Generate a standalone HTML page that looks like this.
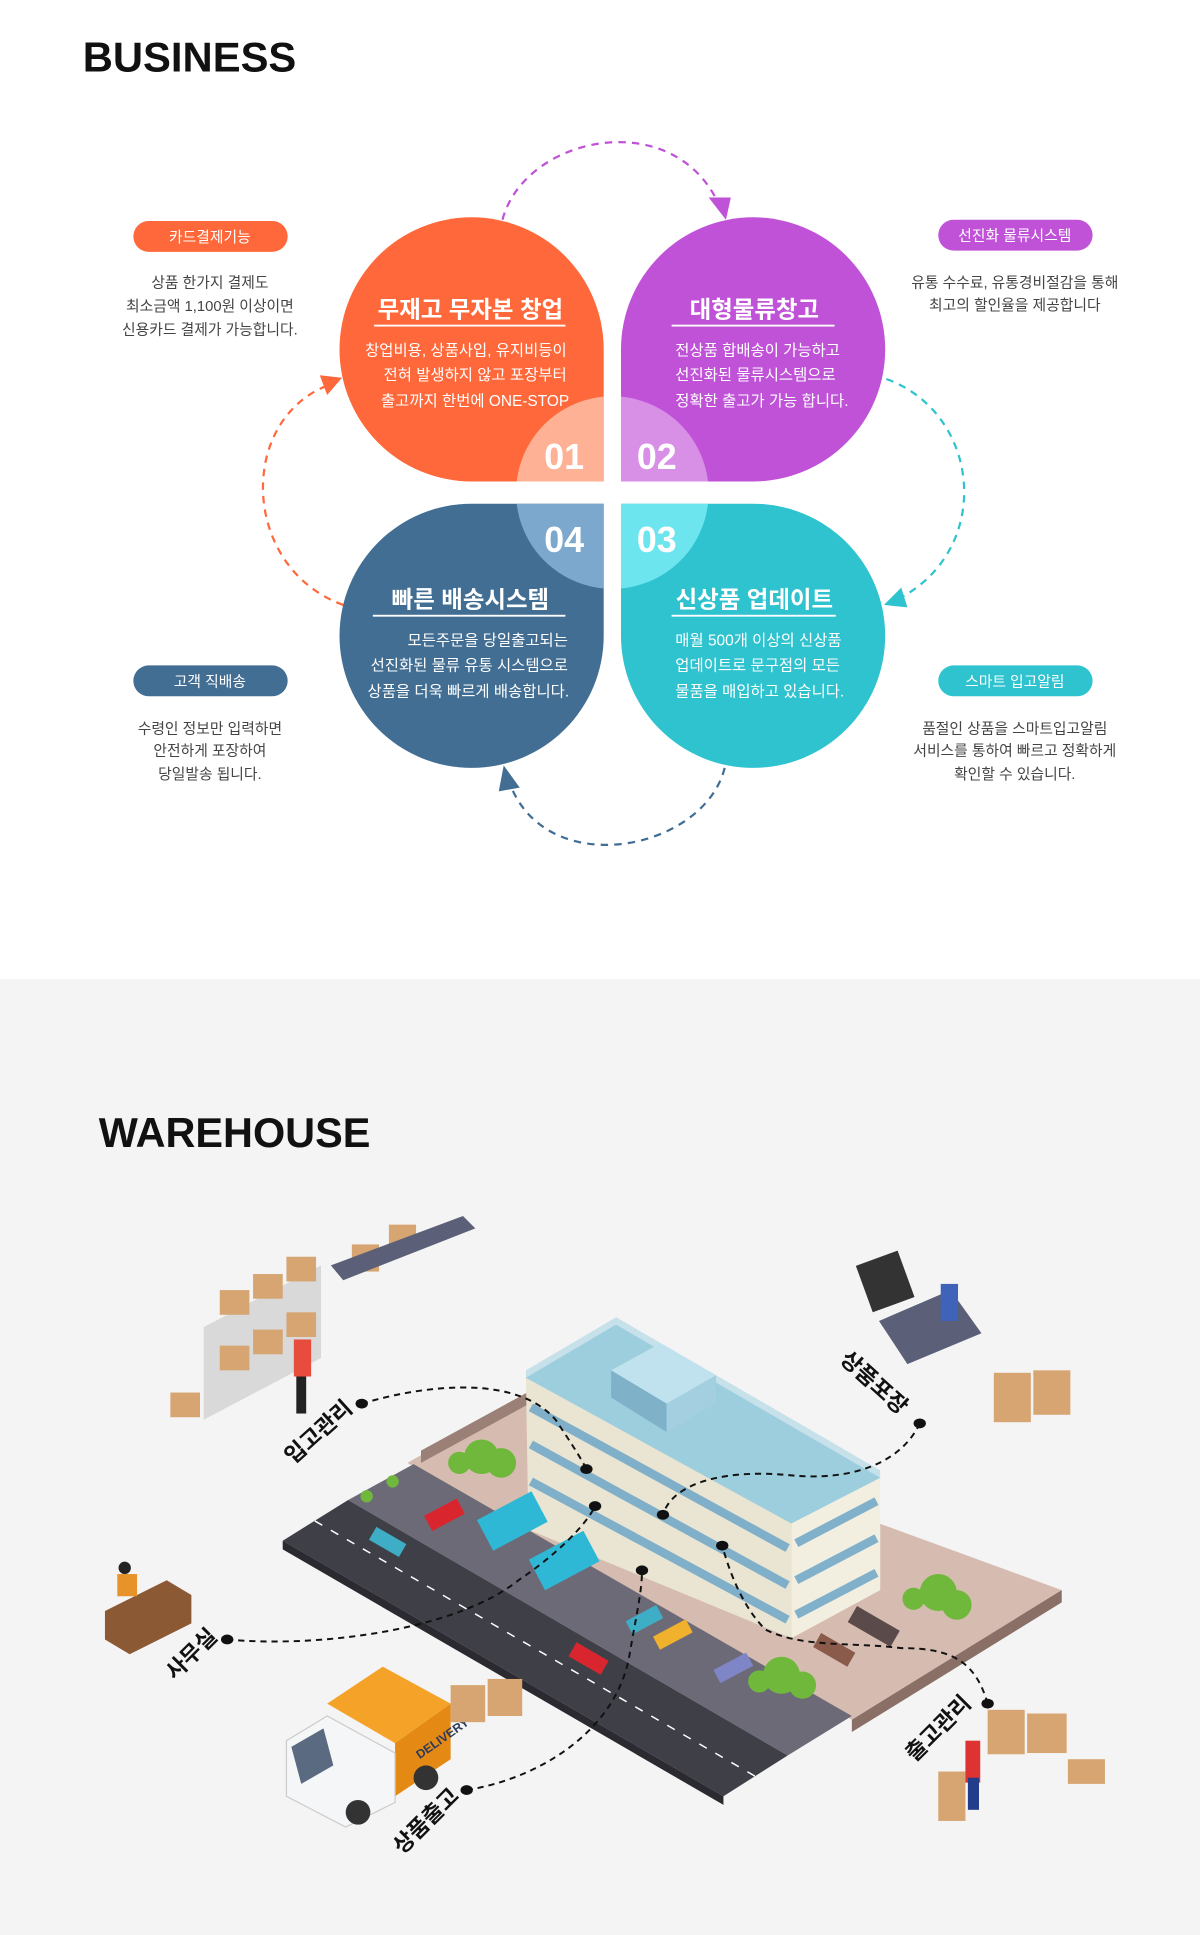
<!DOCTYPE html>
<html><head><meta charset="utf-8"><style>
html,body{margin:0;padding:0;background:#fff;}
svg{display:block;}
text{font-family:"Liberation Sans","Noto Sans CJK KR",sans-serif;}
</style></head><body>
<svg width="1200" height="1935" viewBox="0 0 972 1567.4" xmlns="http://www.w3.org/2000/svg">
<defs>
<clipPath id="c1"><path d="M489,390 L382,390 A107,107 0 1 1 489,283 Z"/></clipPath>
<clipPath id="c2"><path d="M503,390 L503,283 A107,107 0 1 1 610,390 Z"/></clipPath>
<clipPath id="c3"><path d="M503,408 L610,408 A107,107 0 1 1 503,515 Z"/></clipPath>
<clipPath id="c4"><path d="M489,408 L489,515 A107,107 0 1 1 382,408 Z"/></clipPath>
</defs>
<rect x="0" y="0" width="972" height="793" fill="#fff"/>
<text x="67" y="58" font-size="34" font-weight="bold" fill="#111" textLength="173" lengthAdjust="spacingAndGlyphs">BUSINESS</text>

<!-- dashed arcs -->
<path d="M407,178 C425,110 545,85 582,165" fill="none" stroke="#c052d8" stroke-width="1.8" stroke-dasharray="6,5"/>
<polygon points="574,160 592,160 588,178" fill="#c052d8"/>
<path d="M718,307 C795,335 805,445 728,485" fill="none" stroke="#2ec3cf" stroke-width="1.8" stroke-dasharray="6,5"/>
<polygon points="716,490 730,476 735,492" fill="#2ec3cf"/>
<path d="M587,622 C570,690 440,715 412,632" fill="none" stroke="#426e93" stroke-width="1.8" stroke-dasharray="6,5"/>
<polygon points="408,620 421,638 404,641" fill="#426e93"/>
<path d="M278,490 C195,460 192,340 266,312" fill="none" stroke="#ff683a" stroke-width="1.8" stroke-dasharray="6,5"/>
<polygon points="277,306 259,304 265,320" fill="#ff683a"/>

<!-- petals -->
<path d="M489,390 L382,390 A107,107 0 1 1 489,283 Z" fill="#ff683a"/>
<path d="M503,390 L503,283 A107,107 0 1 1 610,390 Z" fill="#c052d8"/>
<path d="M503,408 L610,408 A107,107 0 1 1 503,515 Z" fill="#2ec3cf"/>
<path d="M489,408 L489,515 A107,107 0 1 1 382,408 Z" fill="#426e93"/>
<circle cx="496" cy="399" r="78" fill="#ffb196" clip-path="url(#c1)"/>
<circle cx="496" cy="399" r="78" fill="#d88fe6" clip-path="url(#c2)"/>
<circle cx="496" cy="399" r="78" fill="#6de5ee" clip-path="url(#c3)"/>
<circle cx="496" cy="399" r="78" fill="#7ba8cc" clip-path="url(#c4)"/>

<g fill="#fff" font-weight="bold" font-size="29">
<text x="457" y="380" text-anchor="middle">01</text>
<text x="532" y="380" text-anchor="middle">02</text>
<text x="457" y="447" text-anchor="middle">04</text>
<text x="532" y="447" text-anchor="middle">03</text>
</g>

<g fill="#fff">
<text x="381" y="257" font-size="19" font-weight="bold" text-anchor="middle">무재고 무자본 창업</text>
<rect x="303" y="263" width="155" height="1.5"/>
<g font-size="12.5" text-anchor="end">
<text x="459" y="288">창업비용, 상품사입, 유지비등이</text>
<text x="459" y="308">전혀 발생하지 않고 포장부터</text>
<text x="461" y="329">출고까지 한번에 ONE-STOP</text>
</g>
<text x="611" y="257" font-size="19" font-weight="bold" text-anchor="middle">대형물류창고</text>
<rect x="544" y="263" width="132" height="1.5"/>
<g font-size="12.5">
<text x="547" y="288">전상품 합배송이 가능하고</text>
<text x="547" y="308">선진화된 물류시스템으로</text>
<text x="547" y="329">정확한 출고가 가능 합니다.</text>
</g>
<text x="381" y="492" font-size="19" font-weight="bold" text-anchor="middle">빠른 배송시스템</text>
<rect x="302" y="498" width="156" height="1.5"/>
<g font-size="12.5" text-anchor="end">
<text x="460" y="523">모든주문을 당일출고되는</text>
<text x="460" y="543">선진화된 물류 유통 시스템으로</text>
<text x="461" y="564">상품을 더욱 빠르게 배송합니다.</text>
</g>
<text x="611" y="492" font-size="19" font-weight="bold" text-anchor="middle">신상품 업데이트</text>
<rect x="544" y="498" width="133" height="1.5"/>
<g font-size="12.5">
<text x="547" y="523">매월 500개 이상의 신상품</text>
<text x="547" y="543">업데이트로 문구점의 모든</text>
<text x="547" y="564">물품을 매입하고 있습니다.</text>
</g>
</g>

<!-- side pills -->
<rect x="108" y="179" width="125" height="25" rx="12.5" fill="#ff683a"/>
<text x="170" y="196" font-size="12" fill="#fff" text-anchor="middle">카드결제기능</text>
<rect x="760" y="178" width="125" height="25" rx="12.5" fill="#c052d8"/>
<text x="822" y="195" font-size="12" fill="#fff" text-anchor="middle">선진화 물류시스템</text>
<rect x="108" y="539" width="125" height="25" rx="12.5" fill="#426e93"/>
<text x="170" y="556" font-size="12" fill="#fff" text-anchor="middle">고객 직배송</text>
<rect x="760" y="539" width="125" height="25" rx="12.5" fill="#2ec3cf"/>
<text x="822" y="556" font-size="12" fill="#fff" text-anchor="middle">스마트 입고알림</text>
<g font-size="12" fill="#444" text-anchor="middle">
<text x="170" y="233">상품 한가지 결제도</text>
<text x="170" y="252">최소금액 1,100원 이상이면</text>
<text x="170" y="271">신용카드 결제가 가능합니다.</text>
<text x="822" y="233">유통 수수료, 유통경비절감을 통해</text>
<text x="822" y="251">최고의 할인율을 제공합니다</text>
<text x="170" y="594">수령인 정보만 입력하면</text>
<text x="170" y="612">안전하게 포장하여</text>
<text x="170" y="631">당일발송 됩니다.</text>
<text x="822" y="594">품절인 상품을 스마트입고알림</text>
<text x="822" y="612">서비스를 통하여 빠르고 정확하게</text>
<text x="822" y="631">확인할 수 있습니다.</text>
</g>

<!-- WAREHOUSE -->
<rect x="0" y="793" width="972" height="775" fill="#f4f4f4"/>
<text x="80" y="929" font-size="34" font-weight="bold" fill="#111" textLength="220" lengthAdjust="spacingAndGlyphs">WAREHOUSE</text>

<!-- ground -->
<polygon points="330,1185 427,1130 860,1288 690,1393" fill="#d6bcb0"/>
<polygon points="860,1288 860,1298 690,1403 690,1393" fill="#8a6f66"/>
<polygon points="341,1175 427,1128 427,1138 341,1185" fill="#9a8077"/>
<!-- lot and road -->
<polygon points="282,1215 335,1186 690,1390 638,1422" fill="#6d6a78"/>
<polygon points="229,1248 282,1215 638,1422 586,1455" fill="#3f4047"/>
<polygon points="229,1248 586,1455 586,1462 229,1255" fill="#2a2a30"/>
<line x1="255" y1="1232" x2="612" y2="1439" stroke="#fff" stroke-width="1.2" stroke-dasharray="7,8"/>

<!-- building -->
<polygon points="426,1116 641,1234 641,1327 428,1239" fill="#e9e5d2"/>
<polygon points="641,1234 713,1197 713,1288 641,1327" fill="#f2efe0"/>
<g stroke="#6ea6c8" stroke-width="7" opacity="0.85">
<line x1="430" y1="1140" x2="638" y2="1254"/>
<line x1="430" y1="1170" x2="638" y2="1284"/>
<line x1="430" y1="1200" x2="638" y2="1312"/>
<line x1="645" y1="1250" x2="710" y2="1216"/>
<line x1="645" y1="1280" x2="710" y2="1246"/>
<line x1="645" y1="1308" x2="710" y2="1274"/>
</g>
<polygon points="426,1116 499,1073 713,1197 641,1234" fill="#8ec5d6"/>
<polygon points="426,1110 499,1067 713,1191 713,1197 641,1234 426,1116" fill="#a6d3e2" opacity="0.6"/>
<polygon points="495,1110 535,1088 580,1114 540,1137" fill="#bfe2ee"/>
<polygon points="495,1110 540,1137 540,1160 495,1132" fill="#7fb2c8"/>
<polygon points="540,1137 580,1114 580,1137 540,1160" fill="#a3cfe0"/>

<!-- trees -->
<g fill="#6fb83c">
<circle cx="390" cy="1180" r="14"/><circle cx="406" cy="1185" r="12"/><circle cx="372" cy="1185" r="9"/>
<circle cx="760" cy="1290" r="15"/><circle cx="775" cy="1300" r="12"/><circle cx="740" cy="1295" r="9"/>
<circle cx="633" cy="1357" r="15"/><circle cx="650" cy="1365" r="11"/><circle cx="615" cy="1362" r="9"/>
<circle cx="297" cy="1212" r="5"/><circle cx="318" cy="1200" r="5"/>
</g>
<!-- vehicles -->
<g>
<rect x="345" y="1220" width="30" height="14" fill="#d9262e" transform="rotate(-28 360 1227)"/>
<rect x="300" y="1243" width="28" height="12" fill="#3eaec6" transform="rotate(30 314 1249)"/>
<rect x="390" y="1218" width="50" height="28" fill="#2fb8d6" transform="rotate(-28 415 1232)"/>
<rect x="432" y="1250" width="50" height="28" fill="#2fb8d6" transform="rotate(-28 457 1264)"/>
<rect x="508" y="1306" width="28" height="12" fill="#3eaec6" transform="rotate(-28 522 1312)"/>
<rect x="530" y="1318" width="30" height="12" fill="#f0b12d" transform="rotate(-28 545 1324)"/>
<rect x="462" y="1337" width="30" height="13" fill="#d9262e" transform="rotate(30 477 1343)"/>
<rect x="579" y="1345" width="30" height="12" fill="#7f86c8" transform="rotate(-28 594 1351)"/>
<rect x="660" y="1330" width="32" height="13" fill="#8a5a4a" transform="rotate(30 676 1336)"/>
<rect x="688" y="1310" width="40" height="15" fill="#5a4a4a" transform="rotate(30 708 1317)"/>
</g>

<!-- top-left shelves -->
<polygon points="165,1075 260,1025 260,1100 165,1150" fill="#d9d9d9"/>
<g fill="#d6a572">
<rect x="178" y="1045" width="24" height="20"/><rect x="205" y="1032" width="24" height="20"/><rect x="232" y="1018" width="24" height="20"/>
<rect x="178" y="1090" width="24" height="20"/><rect x="205" y="1077" width="24" height="20"/><rect x="232" y="1063" width="24" height="20"/>
<rect x="285" y="1008" width="22" height="22"/><rect x="315" y="992" width="22" height="22"/>
<rect x="138" y="1128" width="24" height="20"/>
</g>
<polygon points="268,1025 375,985 385,995 278,1037" fill="#5b5f78"/>
<rect x="238" y="1085" width="14" height="30" fill="#e84c3d"/>
<rect x="240" y="1115" width="8" height="30" fill="#222"/>
<!-- packing station -->
<rect x="699" y="1018" width="36" height="40" fill="#333" transform="rotate(-20 717 1038)"/>
<polygon points="712,1070 770,1045 795,1080 735,1105" fill="#5b5f78"/>
<rect x="762" y="1040" width="14" height="30" fill="#3e63b8"/>
<g fill="#d6a572"><rect x="805" y="1112" width="30" height="40"/><rect x="837" y="1110" width="30" height="36"/></g>
<!-- office -->
<polygon points="85,1305 135,1280 155,1292 155,1315 105,1340 85,1328" fill="#8b5a35"/>
<rect x="95" y="1275" width="16" height="18" fill="#e8932a"/>
<circle cx="101" cy="1270" r="5" fill="#222"/>
<!-- delivery truck -->
<polygon points="265,1380 310,1350 365,1380 320,1412" fill="#f5a229"/>
<polygon points="320,1412 365,1380 365,1425 320,1455" fill="#e48a14"/>
<text x="340" y="1425" font-size="10" font-weight="bold" fill="#2c3a5a" transform="rotate(-35 340 1425)">DELIVERY</text>
<polygon points="232,1410 265,1390 320,1420 320,1460 280,1480 232,1455" fill="#f4f6f8" stroke="#ccc"/>
<polygon points="236,1415 262,1400 270,1430 244,1445" fill="#5a6a80"/>
<circle cx="290" cy="1468" r="10" fill="#333"/><circle cx="345" cy="1440" r="10" fill="#333"/>
<g fill="#d6a572"><rect x="365" y="1365" width="28" height="30"/><rect x="395" y="1360" width="28" height="30"/></g>
<!-- outgoing -->
<g fill="#d6a572"><rect x="800" y="1385" width="30" height="36"/><rect x="832" y="1388" width="32" height="32"/><rect x="760" y="1435" width="22" height="40"/><rect x="865" y="1425" width="30" height="20"/></g>
<rect x="782" y="1410" width="12" height="34" fill="#d33"/><rect x="784" y="1440" width="9" height="26" fill="#233d8a"/>

<!-- dashed connectors -->
<g fill="none" stroke="#111" stroke-width="1.6" stroke-dasharray="5,4">
<path d="M293,1137 C350,1120 420,1115 450,1150 C460,1165 470,1180 475,1190"/>
<path d="M745,1153 C730,1185 690,1200 640,1195 C590,1190 545,1200 537,1227"/>
<path d="M184,1328 C260,1335 370,1320 420,1280 C450,1260 475,1235 482,1220"/>
<path d="M378,1450 C440,1440 500,1400 510,1340 C515,1310 520,1290 520,1272"/>
<path d="M800,1380 C790,1345 770,1335 730,1335 C690,1330 650,1335 620,1320 C600,1300 590,1270 585,1252"/>
</g>
<g fill="#111">
<ellipse cx="293" cy="1137" rx="5" ry="4"/><ellipse cx="475" cy="1190" rx="5" ry="4"/>
<ellipse cx="482" cy="1220" rx="5" ry="4"/><ellipse cx="537" cy="1227" rx="5" ry="4"/>
<ellipse cx="520" cy="1272" rx="5" ry="4"/><ellipse cx="585" cy="1252" rx="5" ry="4"/>
<ellipse cx="745" cy="1153" rx="5" ry="4"/><ellipse cx="184" cy="1328" rx="5" ry="4"/>
<ellipse cx="378" cy="1450" rx="5" ry="4"/><ellipse cx="800" cy="1380" rx="5" ry="4"/>
</g>
<g font-size="18" font-weight="bold" fill="#111" text-anchor="middle">
<text x="258" y="1166" transform="rotate(-42 258 1160)">입고관리</text>
<text x="708" y="1126" transform="rotate(42 708 1120)">상품포장</text>
<text x="155" y="1346" transform="rotate(-45 155 1340)">사무실</text>
<text x="345" y="1481" transform="rotate(-45 345 1475)">상품출고</text>
<text x="760" y="1406" transform="rotate(-45 760 1400)">출고관리</text>
</g>
</svg>
</body></html>
